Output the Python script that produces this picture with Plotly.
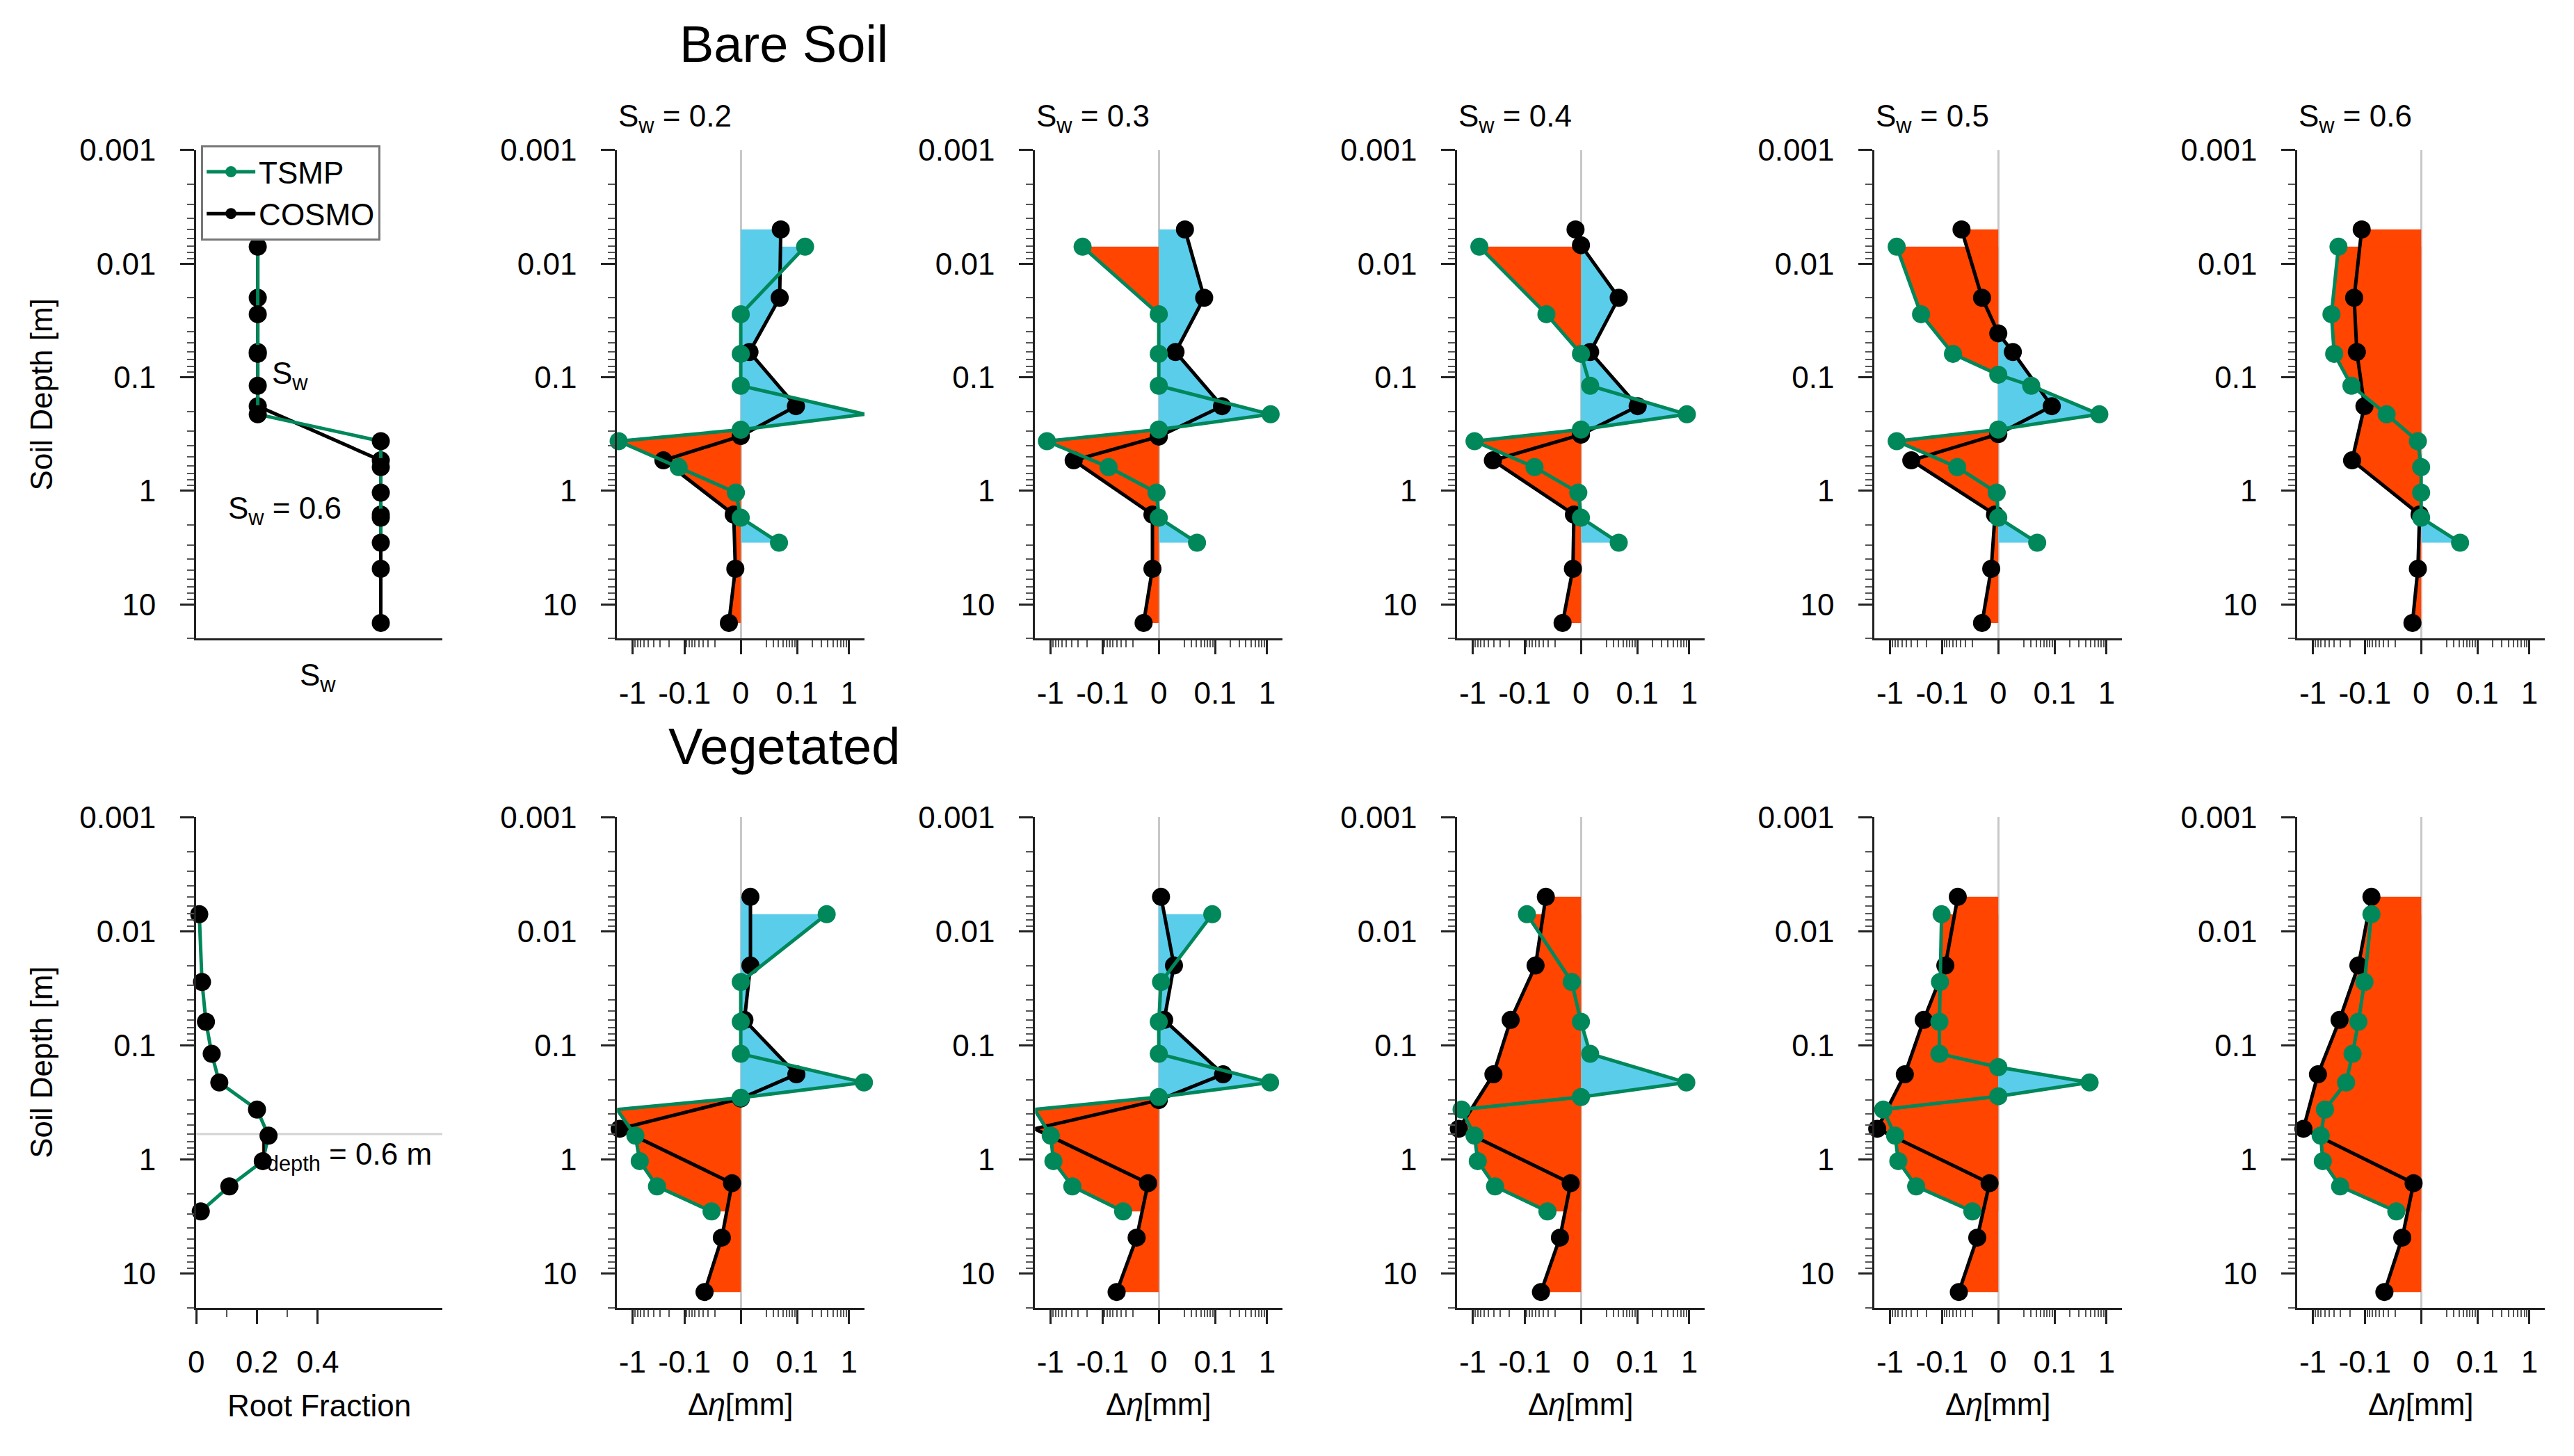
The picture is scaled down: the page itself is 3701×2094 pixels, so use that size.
import numpy as np
import plotly.graph_objects as go

# soil levels [m] of the two models
tsmp_depth = [0.0071, 0.0279, 0.0623, 0.1189, 0.2122, 0.3661, 0.6198, 1.038, 1.7276, 2.8646]
cosmo_depth = [0.005, 0.02, 0.06, 0.18, 0.54, 1.62, 4.86, 14.58]

# initial saturation profile (left column, bare soil)
tsmp_sw = [0.2, 0.2, 0.2, 0.2, 0.2, 0.6, 0.6, 0.6, 0.6, 0.6]
cosmo_sw = [0.2, 0.2, 0.2, 0.2, 0.6, 0.6, 0.6, 0.6]

# root fraction profile (left column, vegetated)
root_fraction = [0.01, 0.019, 0.032, 0.051, 0.076, 0.20, 0.238, 0.219, 0.109, 0.015]
root_depth = 0.6

sw_cases = ["0.2", "0.3", "0.4", "0.5", "0.6"]

# delta eta [mm], bare soil
bare_tsmp_02 = [0.145, 0.0, 0.0, 0.0, 1.99, -1.81, -0.131, -0.0023, 0.0, 0.041]
bare_cosmo_02 = [0.045, 0.0425, 0.0045, 0.095, -0.26, -0.0035, -0.0026, -0.0066]
bare_tsmp_03 = [-0.247, 0.0, 0.0, 0.0, 1.165, -1.165, -0.075, -0.001, 0.0, 0.041]
bare_cosmo_03 = [0.0205, 0.0592, 0.0104, 0.138, -0.366, -0.0031, -0.0031, -0.0091]
bare_tsmp_04 = [-0.749, -0.0336, 0.0, 0.0048, 0.902, -0.923, -0.0624, -0.0012, 0.0, 0.040]
bare_cosmo_04 = [-0.0026, 0.040, 0.0048, 0.102, -0.417, -0.0035, -0.0041, -0.0119]
bare_tsmp_05 = [-0.749, -0.259, -0.059, 0.0307, 0.731, -0.749, -0.0475, -0.0007, 0.0, 0.0425]
bare_cosmo_05 = [-0.0379, -0.010, 0.0086, 0.0877, -0.397, -0.0015, -0.0035, -0.010]
bare_tsmp_06 = [-0.329, -0.447, -0.397, -0.185, -0.0336, -0.0015, 0.0, 0.0, 0.0, 0.0425]
bare_cosmo_06 = [-0.116, -0.164, -0.145, -0.102, -0.18, -0.0007, -0.0015, -0.0045]

# delta eta [mm], vegetated
veg_tsmp_02 = [0.379, 0.0, 0.0, 0.0, 1.895, -1.94, -0.882, -0.731, -0.345, -0.0247]
veg_cosmo_02 = [0.0051, 0.0051, 0.0017, 0.097, -1.73, -0.0045, -0.0124, -0.0368]
veg_tsmp_03 = [0.0877, 0.001, 0.0, 0.0, 1.138, -1.985, -0.99, -0.881, -0.388, -0.0357]
veg_cosmo_03 = [0.001, 0.0091, 0.0026, 0.145, -1.985, -0.0058, -0.0157, -0.0503]
veg_tsmp_04 = [-0.09, -0.0048, 0.0, 0.0048, 0.881, -1.61, -0.923, -0.803, -0.379, -0.0317]
veg_cosmo_04 = [-0.0347, -0.0592, -0.190, -0.407, -1.81, -0.0055, -0.0145, -0.045]
veg_tsmp_05 = [-0.102, -0.11, -0.113, -0.113, 0.48, -1.339, -0.803, -0.698, -0.321, -0.0202]
veg_cosmo_05 = [-0.0462, -0.0855, -0.23, -0.527, -1.73, -0.0045, -0.0145, -0.0437]
veg_tsmp_06 = [-0.0732, -0.102, -0.135, -0.176, -0.235, -0.593, -0.714, -0.651, -0.306, -0.0188]
veg_cosmo_06 = [-0.0732, -0.135, -0.314, -0.803, -1.5, -0.0038, -0.0124, -0.0379]

bare_tsmp = [bare_tsmp_02, bare_tsmp_03, bare_tsmp_04, bare_tsmp_05, bare_tsmp_06]
bare_cosmo = [bare_cosmo_02, bare_cosmo_03, bare_cosmo_04, bare_cosmo_05, bare_cosmo_06]
veg_tsmp = [veg_tsmp_02, veg_tsmp_03, veg_tsmp_04, veg_tsmp_05, veg_tsmp_06]
veg_cosmo = [veg_cosmo_02, veg_cosmo_03, veg_cosmo_04, veg_cosmo_05, veg_cosmo_06]

GREEN = "#00875A"
RED = "#FF4500"
BLUE = "#5ACDEB"
FONT = "Liberation Sans"
W, H = 3701, 2094
LIN = 0.01  # linear threshold of the symlog x axis
OX = -20            # small shifts to line the page up with the reference
OY = {0: -29, 1: -21}
LW, MS = 5, 26


def symlog(v):
    v = np.asarray(v, dtype=float)
    return np.sign(v) * np.log10(1 + np.abs(v) / LIN)


def with_crossings(depth, t):
    # add the zero crossings so the fills split cleanly by sign
    d_out, t_out = [depth[0]], [t[0]]
    for i in range(1, len(t)):
        if t[i - 1] * t[i] < 0:
            f = t[i - 1] / (t[i - 1] - t[i])
            d_out.append(depth[i - 1] + f * (depth[i] - depth[i - 1]))
            t_out.append(0.0)
        d_out.append(depth[i])
        t_out.append(t[i])
    return np.array(d_out), np.array(t_out)


def refs(n):
    return ("x", "y") if n == 1 else (f"x{n}", f"y{n}")


def px_x(p):
    return (p + OX) / W


def px_y(p, row=0):
    return 1 - (p + OY[row]) / H


row_dom = {0: [px_y(925, 0), px_y(214, 0)], 1: [px_y(1891, 1), px_y(1177, 1)]}
left_dom = [px_x(283), px_x(638)]
diff_left = [890, 1493, 2102, 2704, 3314]
diff_w = 357

fig = go.Figure()

# ---- left column: saturation profile
xa, ya = refs(1)
fig.add_trace(go.Scatter(x=cosmo_sw, y=cosmo_depth, mode="lines+markers",
                         line=dict(color="black", width=LW), marker=dict(color="black", size=MS),
                         showlegend=False, cliponaxis=False, xaxis=xa, yaxis=ya))
fig.add_trace(go.Scatter(x=tsmp_sw, y=tsmp_depth, mode="lines+markers",
                         line=dict(color=GREEN, width=LW), marker=dict(color="black", size=MS),
                         showlegend=False, cliponaxis=False, xaxis=xa, yaxis=ya))

# ---- left column: root fraction
xa, ya = refs(7)
fig.add_trace(go.Scatter(x=[0, 0.81], y=[root_depth, root_depth], mode="lines",
                         line=dict(color="#D3D3D3", width=3), showlegend=False, xaxis=xa, yaxis=ya))
fig.add_trace(go.Scatter(x=root_fraction, y=tsmp_depth, mode="lines+markers",
                         line=dict(color=GREEN, width=LW), marker=dict(color="black", size=MS),
                         showlegend=False, cliponaxis=False, xaxis=xa, yaxis=ya))


def add_profile(n, tsmp_vals, cosmo_vals, legend):
    xa, ya = refs(n)
    curves = [with_crossings(cosmo_depth, symlog(cosmo_vals)),
              with_crossings(tsmp_depth, symlog(tsmp_vals))]
    for d, t in curves:
        for clip, color in ((np.maximum(t, 0), BLUE), (np.minimum(t, 0), RED)):
            fig.add_trace(go.Scatter(x=clip, y=d, mode="none", fill="tozerox", fillcolor=color,
                                     hoverinfo="skip", showlegend=False, xaxis=xa, yaxis=ya))
    for (d, t), color, name, rank in zip(curves, ("black", GREEN), ("COSMO", "TSMP"), (2, 1)):
        fig.add_trace(go.Scatter(x=t, y=d, mode="lines+markers", name=name,
                                 line=dict(color=color, width=LW), marker=dict(color=color, size=MS),
                                 showlegend=legend, legendrank=rank, cliponaxis=False,
                                 xaxis=xa, yaxis=ya))


for i in range(5):
    add_profile(2 + i, bare_tsmp[i], bare_cosmo[i], i == 0)
    add_profile(8 + i, veg_tsmp[i], veg_cosmo[i], False)

# ---- axes
tick_font = dict(family=FONT, size=44, color="black")
minor_y = [k * 10.0 ** e for e in range(-3, 2) for k in range(2, 10) if k * 10.0 ** e <= 20]
minor_x_vals = [k * 0.01 for k in range(2, 10)] + [k * 0.1 for k in range(2, 10)]
minor_x = list(symlog(minor_x_vals)) + list(-symlog(minor_x_vals))
major_x = [-1, -0.1, 0, 0.1, 1]

yax = dict(type="log", range=[np.log10(20), -3],
           tickvals=[0.001, 0.01, 0.1, 1, 10], ticktext=["0.001", "0.01", "0.1", "1", "10"],
           ticks="outside", ticklen=20, tickwidth=3, tickcolor="#222", ticklabelstandoff=26,
           showline=True, linewidth=3, linecolor="#222", showgrid=False, zeroline=False,
           minor=dict(tickvals=minor_y, ticks="outside", ticklen=10, tickwidth=2, tickcolor="#555"),
           tickfont=tick_font)
base_x = dict(ticks="outside", ticklen=20, tickwidth=3, tickcolor="#222", ticklabelstandoff=18,
              showline=True, linewidth=3, linecolor="#222", showgrid=False, tickfont=tick_font)

layout_axes = {}
for n in range(1, 13):
    row = 0 if n <= 6 else 1
    col = (n - 1) % 6
    xk = "xaxis" if n == 1 else f"xaxis{n}"
    yk = "yaxis" if n == 1 else f"yaxis{n}"
    xa, ya = refs(n)
    if col == 0:
        dom = left_dom
    else:
        dom = [px_x(diff_left[col - 1]), px_x(diff_left[col - 1] + diff_w)]
    if n == 1:
        xax = dict(base_x, domain=dom, range=[0, 0.8], ticks="", showticklabels=False, zeroline=False)
    elif n == 7:
        xax = dict(base_x, domain=dom, range=[0, 0.81], tickvals=[0, 0.2, 0.4],
                   ticktext=["0", "0.2", "0.4"], zeroline=False,
                   minor=dict(tickvals=[0.1, 0.3], ticks="outside", ticklen=10, tickwidth=2,
                              tickcolor="#555"))
    else:
        xax = dict(base_x, domain=dom, range=[-2.29, 2.29], tickvals=list(symlog(major_x)),
                   ticktext=["-1", "-0.1", "0", "0.1", "1"],
                   zeroline=True, zerolinecolor="#C8C8C8", zerolinewidth=3,
                   minor=dict(tickvals=minor_x, ticks="outside", ticklen=10, tickwidth=2,
                              tickcolor="#555"))
    xax["anchor"] = ya
    layout_axes[xk] = xax
    layout_axes[yk] = dict(yax, domain=row_dom[row], anchor=xa)

# ---- text
txt = dict(family=FONT, size=44, color="black")
big = dict(family=FONT, size=74, color="black")


def paper_text(text, x, y, font=txt, **kw):
    return dict(text=text, x=x, y=y, xref="paper", yref="paper", xanchor=kw.pop("xanchor", "center"),
                yanchor="middle", showarrow=False, font=font, **kw)


ann = [paper_text("Bare Soil", px_x(1131), px_y(60, 0), big),
       paper_text("Vegetated", px_x(1131), px_y(1074, 1), big)]
for i, sw in enumerate(sw_cases):
    ann.append(paper_text(f"S<sub>w</sub> = {sw}", px_x(diff_left[i]), px_y(168, 0), xanchor="left"))
    ann.append(paper_text("Δ<i>η</i>[mm]", px_x(diff_left[i] + diff_w / 2), px_y(2031, 1)))
ann.append(paper_text("Soil Depth [m]", px_x(60), px_y(570, 0), textangle=-90))
ann.append(paper_text("Soil Depth [m]", px_x(60), px_y(1534, 1), textangle=-90))
ann.append(paper_text("S<sub>w</sub>", px_x(458), px_y(981, 0)))
ann.append(paper_text("Root Fraction", px_x(460), px_y(2034, 1)))
ann.append(dict(text="S<sub>w</sub>", x=0.241, y=np.log10(0.0964), xref="x", yref="y",
                xanchor="left", yanchor="middle", showarrow=False, font=txt))
ann.append(dict(text="S<sub>w</sub> = 0.6", x=0.099, y=np.log10(1.48), xref="x", yref="y",
                xanchor="left", yanchor="middle", showarrow=False, font=txt))
ann.append(dict(text="l<sub>depth</sub> = 0.6 m", x=0.205, y=np.log10(0.94), xref="x7", yref="y7",
                xanchor="left", yanchor="middle", showarrow=False, font=txt))

fig.update_layout(
    width=W, height=H,
    margin=dict(l=0, r=0, t=0, b=0),
    paper_bgcolor="white", plot_bgcolor="white",
    font=dict(family=FONT, size=44, color="black"),
    annotations=ann,
    legend=dict(x=px_x(290), y=px_y(207, 0), xanchor="left", yanchor="top",
                bordercolor="#777", borderwidth=3, bgcolor="white",
                font=dict(family=FONT, size=44, color="black"), itemwidth=70,
                tracegroupgap=0),
    **layout_axes,
)

fig.write_html("out.html")
